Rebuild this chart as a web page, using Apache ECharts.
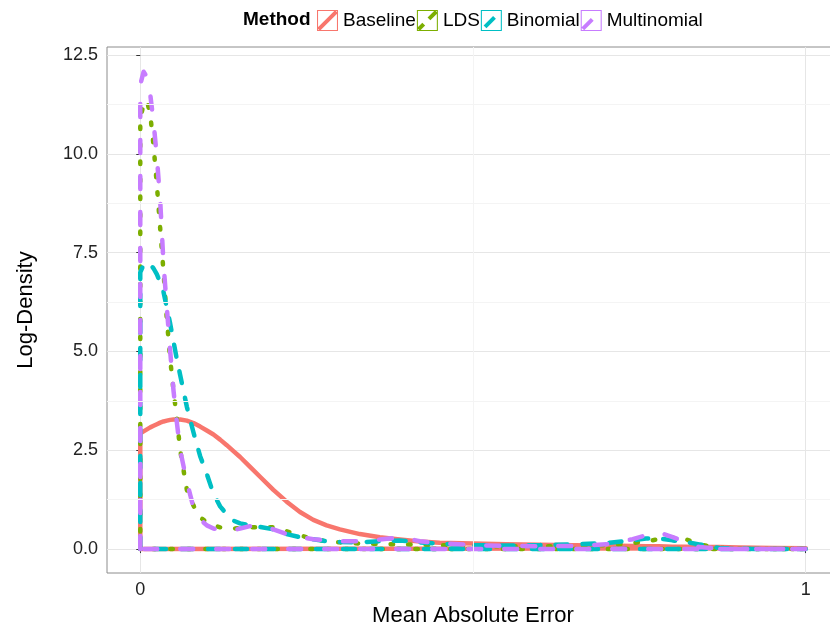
<!DOCTYPE html>
<html>
<head>
<meta charset="utf-8">
<script src="https://cdn.jsdelivr.net/npm/echarts@6/dist/echarts.min.js"></script>
<style>
html,body{margin:0;padding:0;background:#fff;}
#chart{width:830px;height:626px;}
</style>
</head>
<body>
<div id="chart"></div>
<script>
// ---- data ----
const methods = ['Baseline', 'LDS', 'Binomial', 'Multinomial'];
const xGrid = [0, 0.005, 0.01, 0.015, 0.02, 0.025, 0.03, 0.035, 0.04, 0.045,
  0.05, 0.055, 0.06, 0.07, 0.08, 0.09, 0.1, 0.11, 0.12, 0.13,
  0.14, 0.15, 0.165, 0.18, 0.2, 0.22, 0.24, 0.26, 0.28, 0.3,
  0.33, 0.36, 0.39, 0.42, 0.45, 0.5, 0.55, 0.6, 0.65, 0.7,
  0.74, 0.76, 0.78, 0.8, 0.82, 0.84, 0.87, 0.9, 0.95, 1];
const baselineY = [2.93, 2.98, 3.03, 3.08, 3.12, 3.16, 3.2, 3.23, 3.25, 3.27,
  3.28, 3.28, 3.28, 3.25, 3.19, 3.1, 3.0, 2.9, 2.77, 2.63,
  2.48, 2.33, 2.08, 1.83, 1.5, 1.2, 0.94, 0.74, 0.6, 0.5,
  0.38, 0.3, 0.24, 0.19, 0.16, 0.14, 0.12, 0.11, 0.1, 0.09,
  0.08, 0.07, 0.07, 0.06, 0.06, 0.05, 0.05, 0.04, 0.03, 0.02];
const ldsY = [10.9, 11.25, 11.35, 11.0, 10.2, 9.2, 8.1, 7.0, 5.8, 4.8,
  4.0, 3.3, 2.5, 1.5, 1.1, 0.8, 0.68, 0.6, 0.55, 0.53,
  0.52, 0.53, 0.55, 0.55, 0.55, 0.45, 0.35, 0.25, 0.2, 0.17,
  0.14, 0.13, 0.12, 0.11, 0.1, 0.08, 0.07, 0.07, 0.08, 0.1,
  0.15, 0.2, 0.25, 0.3, 0.25, 0.12, 0.03, 0.01, 0, 0];
const binomialY = [7.0, 7.2, 7.26, 7.2, 7.1, 6.95, 6.75, 6.5, 6.1, 5.7,
  5.25, 4.8, 4.4, 3.6, 2.95, 2.35, 1.9, 1.4, 1.08, 0.88,
  0.72, 0.65, 0.6, 0.56, 0.5, 0.38, 0.3, 0.25, 0.2, 0.18,
  0.17, 0.2, 0.22, 0.17, 0.14, 0.1, 0.09, 0.1, 0.12, 0.15,
  0.22, 0.27, 0.27, 0.22, 0.18, 0.12, 0.03, 0.01, 0, 0];
const multinomialY = [11.75, 12.08, 11.95, 11.5, 10.8, 9.9, 8.8, 7.2, 6.1, 5.0,
  4.0, 3.2, 2.5, 1.7, 1.05, 0.75, 0.6, 0.52, 0.48, 0.47,
  0.48, 0.52, 0.58, 0.6, 0.5, 0.38, 0.3, 0.25, 0.22, 0.2,
  0.2, 0.24, 0.3, 0.2, 0.15, 0.1, 0.08, 0.07, 0.08, 0.12,
  0.25, 0.35, 0.42, 0.3, 0.18, 0.05, 0.01, 0, 0, 0];
const xTicks = [0, 1];
const yTicks = [0, 2.5, 5, 7.5, 10, 12.5];
const yMinor = [1.25, 3.75, 6.25, 8.75, 11.25];
const xMinor = [0.5];

// ---- build ----
const colors = ['#F8766D', '#7CAE00', '#00BFC4', '#C77CFF'];
const dashes = ['solid', [2.5, 15], [12, 15], [13, 23]];
const seriesY = [baselineY, ldsY, binomialY, multinomialY];
const FONT = '"Liberation Sans", Arial, Helvetica, sans-serif';

function closedPolygon(ys) {
  const pts = [[xGrid[0], 0]];
  xGrid.forEach((x, i) => pts.push([x, ys[i]]));
  pts.push([xGrid[xGrid.length - 1], 0]);
  pts.push([xGrid[0], 0]);
  return pts;
}

// legend key icons: thin frame + diagonal segments
const o = 1.35;
function seg(x1, x2) {
  const y1 = 20 - x1, y2 = 20 - x2;
  return 'M' + (x1 - o) + ' ' + (y1 - o) + ' L' + (x2 - o) + ' ' + (y2 - o) +
    ' L' + (x2 + o) + ' ' + (y2 + o) + ' L' + (x1 + o) + ' ' + (y1 + o) + ' Z ';
}
const frame = 'M0 0 L20 0 L20 20 L0 20 Z M1 1 L1 19 L19 19 L19 1 Z ';
const icons = [
  'path://' + frame + seg(1.5, 18.5),
  'path://' + frame + seg(1.5, 6.5) + seg(11.5, 18.5),
  'path://' + frame + seg(4, 13),
  'path://' + frame + seg(2, 11)
];

const series = [{
  type: 'line', data: [], silent: true, z: 1,
  markLine: {
    silent: true, symbol: 'none', animation: false,
    label: {show: false},
    lineStyle: {color: '#F4F4F4', width: 1, type: 'solid'},
    emphasis: {disabled: true},
    data: yMinor.map(v => ({yAxis: v})).concat(xMinor.map(v => ({xAxis: v})))
  }
}];
methods.forEach((m, i) => {
  series.push({
    name: m, type: 'line', data: closedPolygon(seriesY[i]),
    showSymbol: false, symbol: 'none', smooth: false, z: 2,
    color: colors[i],
    lineStyle: {color: colors[i], width: 4.5, type: dashes[i], cap: 'round', join: 'round'},
    emphasis: {disabled: true}
  });
});

const chart = echarts.init(document.getElementById('chart'), null, {renderer: 'canvas'});
chart.setOption({
  animation: false,
  backgroundColor: '#fff',
  title: {
    text: 'Method', left: 243, top: 10, padding: 0,
    textStyle: {fontFamily: FONT, fontSize: 19, fontWeight: 'bold', color: '#000'}
  },
  legend: {
    left: 317, top: 10, padding: 0, itemWidth: 21, itemHeight: 21, itemGap: 1,
    selectedMode: false,
    itemStyle: {borderWidth: 0},
    textStyle: {fontFamily: FONT, fontSize: 19, color: '#000'},
    data: methods.map((m, i) => ({name: m, icon: icons[i], itemStyle: {color: colors[i]}}))
  },
  grid: {
    left: 107, top: 47, bottom: 53, right: -9,
    outerBoundsMode: 'none',
    show: true, borderColor: '#8c8c8c', borderWidth: 1, backgroundColor: '#fff',
    containLabel: false
  },
  xAxis: {
    type: 'value', min: -0.05, max: 1.05, minInterval: 1, maxInterval: 1,
    name: 'Mean Absolute Error', nameLocation: 'middle', nameGap: 32,
    nameTextStyle: {fontFamily: FONT, fontSize: 22, color: '#000'},
    axisLine: {show: false},
    axisTick: {show: true, length: 4, customValues: xTicks, lineStyle: {color: '#333'}},
    axisLabel: {customValues: xTicks, margin: 8, fontFamily: FONT, fontSize: 18, color: '#222',
      formatter: v => String(v)},
    splitLine: {show: true, lineStyle: {color: '#E6E6E6', width: 1}}
  },
  yAxis: {
    type: 'value', min: -0.605, max: 12.705, minInterval: 2.5, maxInterval: 2.5,
    name: 'Log-Density', nameLocation: 'middle', nameGap: 70, nameRotate: 90,
    nameTextStyle: {fontFamily: FONT, fontSize: 22, color: '#000'},
    axisLine: {show: false},
    axisTick: {show: true, length: 4, customValues: yTicks, lineStyle: {color: '#333'}},
    axisLabel: {customValues: yTicks, margin: 9, fontFamily: FONT, fontSize: 18, color: '#222',
      formatter: v => Number(v).toFixed(1)},
    splitLine: {show: true, lineStyle: {color: '#E6E6E6', width: 1}}
  },
  series: series
});
</script>
</body>
</html>
